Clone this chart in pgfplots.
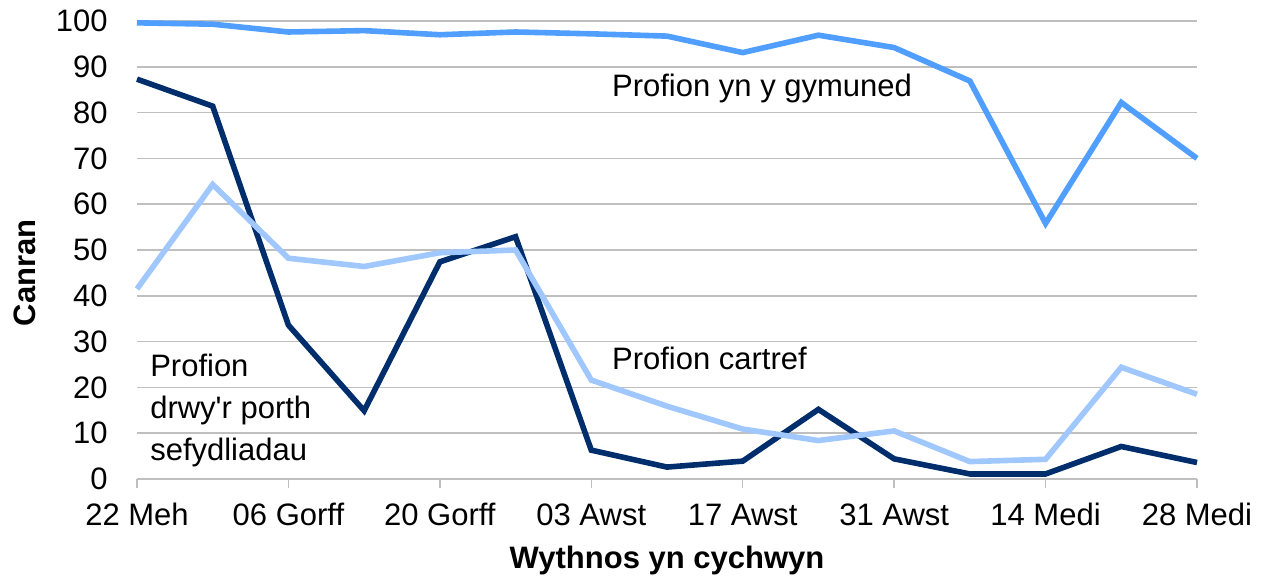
\documentclass[border=0pt]{standalone}
\usepackage{pgfplots}
\pgfplotsset{compat=1.18}
\usepackage{fontspec}
\setmainfont{Liberation Sans}[Ligatures=TeXOff]

\definecolor{navy}{RGB}{0,46,108}
\definecolor{midblue}{RGB}{80,158,255}
\definecolor{lightblue}{RGB}{160,200,255}
\definecolor{gridgray}{RGB}{191,191,191}

\begin{document}
\begin{tikzpicture}[font=\fontsize{15.5bp}{18bp}\selectfont]
\begin{axis}[
    name=ax,
    scale only axis,
    width=530bp,
    height=229bp,
    xmin=0, xmax=14,
    ymin=0, ymax=100,
    xtick={0,2,4,6,8,10,12,14},
    xticklabels={22 Meh,06 Gorff,20 Gorff,03 Awst,17 Awst,31 Awst,14 Medi,28 Medi},
    ytick={0,10,...,100},
    ymajorgrids,
    grid style={gridgray, line width=0.75bp},
    axis lines*=left,
    x axis line style={gridgray, line width=0.75bp, -},
    y axis line style={draw=none},
    tick align=outside,
    major tick length=4.5bp,
    xtick style={gridgray, line width=0.75bp},
    ytick style={draw=none},
    /pgf/number format/assume math mode=true,
    yticklabel style={anchor=east, inner sep=0pt, xshift=-10bp},
    xticklabel style={anchor=north, inner sep=0pt, yshift=-7.5bp, text height=11bp, text depth=0pt},
    xlabel={\bfseries Wythnos yn cychwyn},
    xlabel style={at={(axis description cs:0.5,0)}, anchor=center, yshift=-40.5bp},
    ylabel={\bfseries Canran},
    ylabel style={at={(axis description cs:-0.1057,0.45)}, anchor=center},
    clip=false,
]

% Profion drwy'r porth sefydliadau
\addplot[navy, line width=2.8bp] coordinates {
    (0,87.3) (1,81.4) (2,33.6) (3,14.9) (4,47.4) (5,52.9) (6,6.3) (7,2.6)
    (8,3.9) (9,15.2) (10,4.4) (11,1.1) (12,1.1) (13,7.1) (14,3.6)
};

% Profion cartref
\addplot[lightblue, line width=2.8bp] coordinates {
    (0,41.5) (1,64.3) (2,48.2) (3,46.4) (4,49.4) (5,50.0) (6,21.6) (7,15.9)
    (8,10.9) (9,8.4) (10,10.5) (11,3.8) (12,4.3) (13,24.4) (14,18.5)
};

% Profion yn y gymuned
\addplot[midblue, line width=2.8bp] coordinates {
    (0,99.6) (1,99.3) (2,97.6) (3,97.9) (4,97.0) (5,97.6) (6,97.2) (7,96.7)
    (8,93.1) (9,96.9) (10,94.2) (11,86.9) (12,55.8) (13,82.2) (14,70.0)
};

\node[anchor=west, inner sep=0pt] at (axis cs:6.27,85.2) {Profion yn y gymuned};
\node[anchor=west, inner sep=0pt] at (axis cs:6.27,26.4) {Profion cartref};
\node[anchor=west, inner sep=0pt, align=left, font=\fontsize{15.5bp}{21bp}\selectfont]
    at (axis cs:0.17,15.0) {Profion\\drwy'r porth\\sefydliadau};
\end{axis}
\pgfresetboundingbox
\path ([xshift=-68.5bp, yshift=-49.5bp]ax.south west) rectangle ([xshift=33bp, yshift=10.5bp]ax.north east);
\end{tikzpicture}
\end{document}
